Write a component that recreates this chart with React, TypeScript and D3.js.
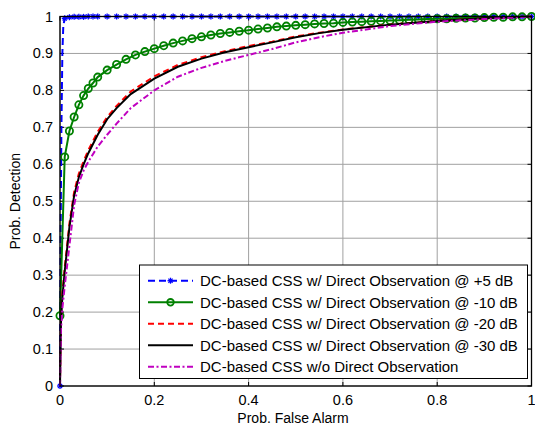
import React from "react";
import * as d3 from "d3";

const xTicks = [0, 0.2, 0.4, 0.6, 0.8, 1];
const yTicks = [0, 0.1, 0.2, 0.3, 0.4, 0.5, 0.6, 0.7, 0.8, 0.9, 1];
const xTickLabels = ["0", "0.2", "0.4", "0.6", "0.8", "1"];
const yTickLabels = ["0", "0.1", "0.2", "0.3", "0.4", "0.5", "0.6", "0.7", "0.8", "0.9", "1"];

const seriesNames = [
  "DC-based CSS w/ Direct Observation @ +5 dB",
  "DC-based CSS w/ Direct Observation @ -10 dB",
  "DC-based CSS w/ Direct Observation @ -20 dB",
  "DC-based CSS w/ Direct Observation @ -30 dB",
  "DC-based CSS w/o Direct Observation",
];

// marker positions (Pf) for the marked series
const markPf = [
  0, 0.01, 0.02, 0.03, 0.04, 0.05, 0.06, 0.07, 0.08, 0.1, 0.12, 0.14, 0.16, 0.18, 0.2,
  0.22, 0.24, 0.26, 0.28, 0.3, 0.32, 0.34, 0.36, 0.38, 0.4, 0.42, 0.44, 0.46, 0.48, 0.5,
  0.52, 0.54, 0.56, 0.58, 0.6, 0.62, 0.64, 0.66, 0.68, 0.7, 0.72, 0.74, 0.76, 0.78, 0.8,
  0.82, 0.84, 0.86, 0.88, 0.9, 0.92, 0.94, 0.96, 0.98, 1,
];

// +5 dB
const blueX = [0, 0.001, 0.003, 0.005, 0.007, 0.01, 0.02, 0.05, 0.1, 0.2, 0.4, 0.6, 0.8, 1];
const blueY = [0, 0.35, 0.7, 0.9, 0.975, 0.995, 0.998, 0.999, 1, 1, 1, 1, 1, 1];
const blueMarkY = [
  0, 0.995, 0.998, 0.999, 0.999, 0.999, 1, 1, 1, 1, 1, 1, 1, 1, 1,
  1, 1, 1, 1, 1, 1, 1, 1, 1, 1, 1, 1, 1, 1, 1,
  1, 1, 1, 1, 1, 1, 1, 1, 1, 1, 1, 1, 1, 1, 1,
  1, 1, 1, 1, 1, 1, 1, 1, 1, 1,
];

// -10 dB (values at markPf)
const greenY = [
  0.19, 0.62, 0.69, 0.728, 0.761, 0.786, 0.805, 0.82, 0.836, 0.855, 0.87, 0.884, 0.896, 0.905, 0.913,
  0.921, 0.928, 0.934, 0.94, 0.945, 0.95, 0.954, 0.957, 0.96, 0.963, 0.966, 0.969, 0.972, 0.974, 0.976,
  0.978, 0.98, 0.981, 0.982, 0.984, 0.985, 0.986, 0.987, 0.988, 0.989, 0.99, 0.991, 0.992, 0.993, 0.994,
  0.994, 0.995, 0.996, 0.996, 0.997, 0.998, 0.998, 0.999, 0.999, 1,
];

// curve Pf grid for the unmarked series
const curveX = [
  0, 0.002, 0.005, 0.01, 0.02, 0.03, 0.04, 0.05, 0.06, 0.08, 0.1, 0.12, 0.15, 0.2, 0.25,
  0.3, 0.35, 0.4, 0.45, 0.5, 0.55, 0.6, 0.7, 0.8, 0.9, 1,
];
// -20 dB
const redY = [
  0, 0.18, 0.25, 0.32, 0.44, 0.525, 0.575, 0.608, 0.638, 0.688, 0.728, 0.758, 0.797, 0.838, 0.869,
  0.89, 0.906, 0.92, 0.932, 0.946, 0.956, 0.965, 0.978, 0.988, 0.995, 1,
];
// -30 dB
const blackY = [
  0, 0.17, 0.24, 0.31, 0.43, 0.515, 0.565, 0.6, 0.63, 0.68, 0.722, 0.752, 0.79, 0.832, 0.864,
  0.886, 0.903, 0.917, 0.93, 0.944, 0.955, 0.964, 0.978, 0.988, 0.995, 1,
];
// w/o direct observation
const magentaY = [
  0, 0.15, 0.21, 0.27, 0.38, 0.49, 0.55, 0.583, 0.607, 0.648, 0.68, 0.71, 0.752, 0.8, 0.837,
  0.861, 0.88, 0.896, 0.912, 0.93, 0.944, 0.956, 0.974, 0.986, 0.993, 1,
];

const W = 535;
const H = 425;
const left = 60;
const right = 531.5;
const top = 16.5;
const bottom = 386;
const font = "'Liberation Sans', Arial, sans-serif";

export default function App() {
  const x = d3.scaleLinear().domain([0, 1]).range([left, right]);
  const y = d3.scaleLinear().domain([0, 1]).range([bottom, top]);
  const line = d3
    .line<[number, number]>()
    .x((d) => x(d[0]))
    .y((d) => y(d[1]));

  const zip = (xs: number[], ys: number[]) => xs.map((v, i) => [v, ys[i]] as [number, number]);
  const blue = zip(blueX, blueY);
  const blueMarks = zip(markPf, blueMarkY);
  const green = zip(markPf, greenY);
  const red = zip(curveX, redY);
  const black = zip(curveX, blackY);
  const magenta = zip(curveX, magentaY);

  const star = (cx: number, cy: number, s: number, color: string, key: any) => (
    <g key={key} stroke={color} strokeWidth={1.3}>
      <line x1={cx - s} y1={cy} x2={cx + s} y2={cy} />
      <line x1={cx} y1={cy - s} x2={cx} y2={cy + s} />
      <line x1={cx - s * 0.7} y1={cy - s * 0.7} x2={cx + s * 0.7} y2={cy + s * 0.7} />
      <line x1={cx - s * 0.7} y1={cy + s * 0.7} x2={cx + s * 0.7} y2={cy - s * 0.7} />
    </g>
  );

  const legendX = 139.5;
  const legendY = 265;
  const legendW = 388;
  const legendH = 113.5;
  const rowY = [280.7, 302.3, 323.8, 345.3, 366.7];
  const styles = [
    { color: "#0000ff", dash: "7,4", width: 2 },
    { color: "#008000", dash: "", width: 2 },
    { color: "#ff0000", dash: "6,4", width: 2 },
    { color: "#000000", dash: "", width: 2 },
    { color: "#c000c0", dash: "6,2.5,2,2.5", width: 2 },
  ];

  return (
    <svg
      width={W}
      height={H}
      style={{ position: "absolute", left: 0, top: 0, background: "#fff" }}
      fontFamily={font}
    >
      <rect x={0} y={0} width={W} height={H} fill="#fff" />
      {/* grid */}
      {xTicks.map((t) => (
        <line key={"gx" + t} x1={x(t)} x2={x(t)} y1={top} y2={bottom} stroke="#a0a0a0" strokeWidth={1} />
      ))}
      {yTicks.map((t) => (
        <line key={"gy" + t} x1={left} x2={right} y1={y(t)} y2={y(t)} stroke="#a0a0a0" strokeWidth={1} />
      ))}
      {/* ticks */}
      {xTicks.map((t) => (
        <g key={"tx" + t} stroke="#000" strokeWidth={1}>
          <line x1={x(t)} x2={x(t)} y1={bottom} y2={bottom - 4} />
          <line x1={x(t)} x2={x(t)} y1={top} y2={top + 4} />
        </g>
      ))}
      {yTicks.map((t) => (
        <g key={"ty" + t} stroke="#000" strokeWidth={1}>
          <line x1={left} x2={left + 4} y1={y(t)} y2={y(t)} />
          <line x1={right} x2={right - 4} y1={y(t)} y2={y(t)} />
        </g>
      ))}
      {/* curves */}
      <path d={line(blue) || ""} fill="none" stroke="#0000ff" strokeWidth={2} strokeDasharray={styles[0].dash} />
      {blueMarks.map((d, i) => star(x(d[0]), y(d[1]), 3, "#0000ff", "bm" + i))}
      <path d={line(green) || ""} fill="none" stroke="#008000" strokeWidth={2} />
      {green.map((d, i) => (
        <circle key={"gm" + i} cx={x(d[0])} cy={y(d[1])} r={3.6} fill="none" stroke="#008000" strokeWidth={1.8} />
      ))}
      <path d={line(red) || ""} fill="none" stroke="#ff0000" strokeWidth={styles[2].width} strokeDasharray={styles[2].dash} />
      <path d={line(black) || ""} fill="none" stroke="#000" strokeWidth={2} />
      <path d={line(magenta) || ""} fill="none" stroke={styles[4].color} strokeWidth={styles[4].width} strokeDasharray={styles[4].dash} />
      {/* frame */}
      <rect x={left} y={top} width={right - left} height={bottom - top} fill="none" stroke="#000" strokeWidth={1.3} />
      {/* tick labels */}
      {xTicks.map((t, i) => (
        <text key={"lx" + t} x={x(t)} y={405} textAnchor="middle" fontSize={14.5}>
          {xTickLabels[i]}
        </text>
      ))}
      {yTicks.map((t, i) => (
        <text key={"ly" + t} x={53} y={y(t) + 5} textAnchor="end" fontSize={14.5}>
          {yTickLabels[i]}
        </text>
      ))}
      <text x={293} y={422.5} textAnchor="middle" fontSize={14}>
        Prob. False Alarm
      </text>
      <text transform={`translate(20,${(top + bottom) / 2}) rotate(-90)`} textAnchor="middle" fontSize={14}>
        Prob. Detection
      </text>
      {/* legend */}
      <rect x={legendX} y={legendY} width={legendW} height={legendH} fill="#fff" stroke="#000" strokeWidth={1} />
      {seriesNames.map((name, i) => (
        <g key={"lg" + i}>
          <line
            x1={148}
            x2={193}
            y1={rowY[i]}
            y2={rowY[i]}
            stroke={styles[i].color}
            strokeWidth={styles[i].width}
            strokeDasharray={styles[i].dash}
          />
          {i === 0 && star(170.5, rowY[i], 3, "#0000ff", "lgs")}
          {i === 1 && <circle cx={170.5} cy={rowY[i]} r={3.3} fill="none" stroke="#008000" strokeWidth={1.8} />}
          <text x={200} y={rowY[i] + 5.2} fontSize={15}>
            {name}
          </text>
        </g>
      ))}
    </svg>
  );
}
